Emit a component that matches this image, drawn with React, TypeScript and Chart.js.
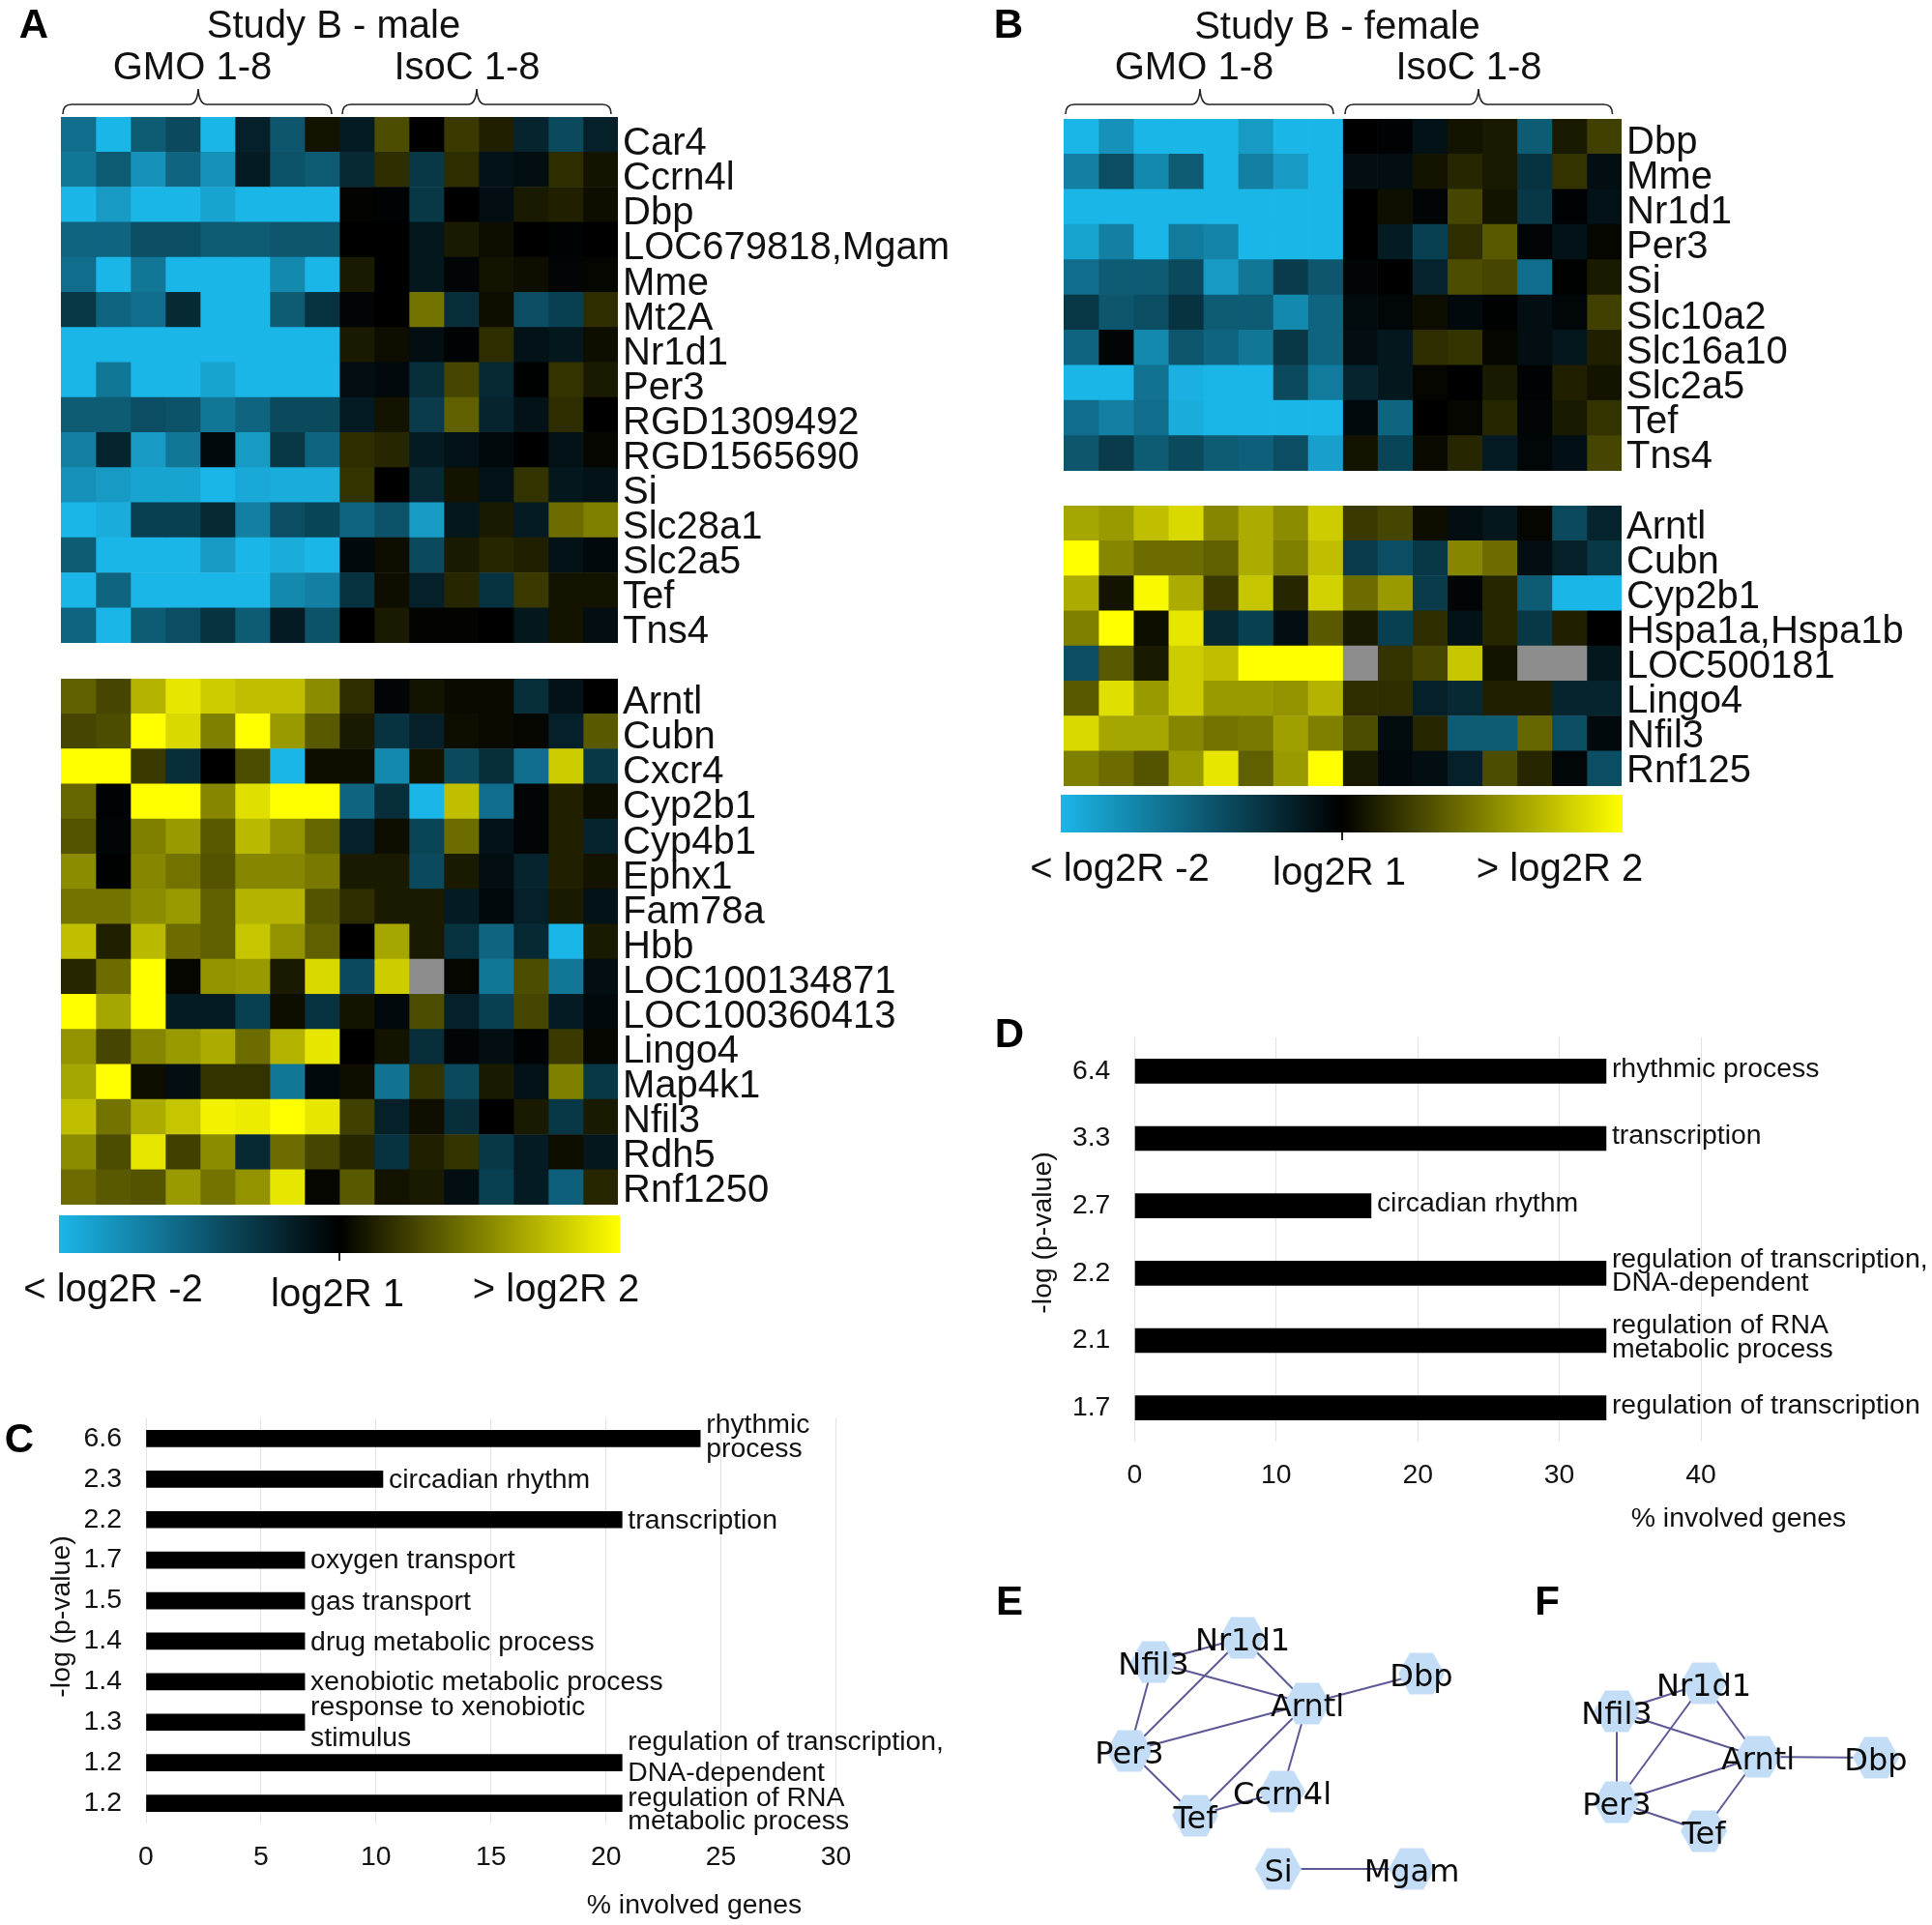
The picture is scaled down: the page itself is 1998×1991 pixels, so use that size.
import React, { useEffect, useRef } from "react";
import { Chart, registerables } from "chart.js";

Chart.register(...registerables);

const SAMPLES = ["GMO 1","GMO 2","GMO 3","GMO 4","GMO 5","GMO 6","GMO 7","GMO 8","IsoC 1","IsoC 2","IsoC 3","IsoC 4","IsoC 5","IsoC 6","IsoC 7","IsoC 8"];

const genesAUp = ["Car4","Ccrn4l","Dbp","LOC679818,Mgam","Mme","Mt2A","Nr1d1","Per3","RGD1309492","RGD1565690","Si","Slc28a1","Slc2a5","Tef","Tns4"];
const valuesAUp: (number|null)[][] = [
[-1.2,-2,-1,-.8,-2,-.35,-.95,.15,-.3,.6,0,.45,.25,-.4,-.8,-.35],
[-1.3,-1,-1.6,-1.1,-1.6,-.3,-.9,-1,-.45,.35,-.6,.35,-.2,-.15,.35,.15],
[-2,-1.7,-2,-2,-1.8,-2,-2,-2,.02,-.03,-.6,0,-.15,.2,.25,.1],
[-1.1,-1.1,-.85,-.85,-1,-1,-.95,-.95,0,0,-.25,.2,.1,0,-.03,0],
[-1.2,-2,-1.3,-2,-2,-2,-1.5,-2,.2,0,-.25,-.05,.15,.1,-.05,.05],
[-.6,-1.1,-1.2,-.45,-2,-2,-1,-.55,-.05,0,.9,-.5,.1,-.85,-.7,.35],
[-2,-2,-2,-2,-2,-2,-2,-2,.2,.1,-.15,-.03,.35,-.2,-.25,.1],
[-2,-1.3,-2,-2,-1.8,-2,-2,-2,-.15,-.1,-.5,.55,-.45,-.02,.4,.2],
[-1,-1,-.85,-.9,-1.3,-1.1,-.8,-.8,-.3,.15,-.65,.75,-.4,-.2,.35,0],
[-1.4,-.4,-1.7,-1.3,-.1,-1.7,-.6,-1.1,.35,.3,-.3,-.2,-.1,0,-.2,.05],
[-1.6,-1.7,-1.8,-1.8,-2,-1.85,-1.9,-1.9,.4,0,-.45,.15,-.2,.4,-.25,-.2],
[-2,-1.9,-.7,-.7,-.45,-1.4,-.85,-.75,-1.1,-.9,-1.7,-.25,.2,-.3,.85,1],
[-1,-2,-2,-2,-1.7,-2,-1.9,-2,-.1,.1,-.8,.2,.3,.25,-.2,-.1],
[-2,-1.1,-2,-2,-2,-2,-1.5,-1.4,-.55,.1,-.35,.3,-.55,.45,.15,.15],
[-1.1,-2,-1,-.85,-.55,-1,-.3,-.9,0,.2,.02,.02,0,-.25,.15,-.15],
];

const genesALow = ["Arntl","Cubn","Cxcr4","Cyp2b1","Cyp4b1","Ephx1","Fam78a","Hbb","LOC100134871","LOC100360413","Lingo4","Map4k1","Nfil3","Rdh5","Rnf1250"];
const valuesALow: (number|null)[][] = [
[.75,.55,1.4,1.8,1.6,1.5,1.5,1.1,.35,-.05,.15,.08,.08,-.5,-.2,0],
[.55,.6,2,1.7,1,2,1.2,.7,.2,-.55,-.35,.1,.08,.05,-.35,.7],
[2,2,.45,-.5,0,.6,-2,.1,.1,-1.5,.15,-.8,-.5,-1.2,1.6,-.6],
[.8,-.03,2,2,1.05,1.75,2,2,-1.1,-.5,-2,1.5,-1.2,-.05,.25,.1],
[.65,-.05,1,1.2,.7,1.45,1.15,.8,-.35,.1,-.75,.85,-.2,-.05,.25,-.4],
[1.1,-.02,1.05,.9,.65,1.05,1.05,.95,.2,.2,-.8,.2,-.15,-.4,.25,.15],
[.9,.9,1.1,1.2,.75,1.4,1.4,.65,.35,.2,.2,-.3,-.1,-.35,.2,-.2],
[1.5,.25,1.45,.85,.75,1.55,1.15,.75,0,1.3,.2,-.55,-1.1,-.45,-2,.2],
[.3,.85,2,.05,1.15,1.2,.2,1.7,-.8,1.6,null,.05,-1.3,.6,-1.3,-.15],
[2,1.3,2,-.3,-.3,-.7,.1,-.55,.15,-.1,.6,-.35,-.7,.55,-.3,-.1],
[1.15,.55,1.05,1.2,1.35,.85,1.4,1.8,0,.15,-.5,-.05,-.15,-.03,.45,.05],
[1.3,2,.1,-.15,.4,.4,-1.3,-.1,.1,-1.25,.4,-.8,.2,-.2,1,-.6],
[1.5,.9,1.35,1.55,1.9,1.85,2,1.8,.5,-.35,.12,-.5,0,.2,-.6,.2],
[1.1,.6,1.8,.5,1.1,-.45,.85,.55,.3,-.55,.25,.4,-.6,-.3,.1,-.25],
[.85,.7,.65,1.2,.9,1.15,1.8,.05,.7,.15,.2,-.15,-.7,-.3,-1.05,.3],
];

const genesBUp = ["Dbp","Mme","Nr1d1","Per3","Si","Slc10a2","Slc16a10","Slc2a5","Tef","Tns4"];
const valuesBUp: (number|null)[][] = [
[-2,-1.6,-2,-2,-2,-1.7,-2,-2,0,-.03,-.2,.15,.2,-1,.2,.5],
[-1.4,-.85,-1.5,-1,-2,-1.4,-1.7,-2,-.15,-.15,.15,.3,.2,-.55,.4,-.15],
[-2,-2,-2,-2,-2,-2,-2,-2,0,.12,-.05,.55,.15,-.6,-.03,-.2],
[-1.8,-1.4,-2,-1.35,-1.45,-2,-2,-2,0,-.3,-.7,.35,.7,-.05,-.2,.05],
[-1.2,-1,-1,-.8,-1.7,-1.3,-.65,-.95,-.05,0,-.4,.6,.55,-1.2,-.02,.2],
[-.6,-.95,-.85,-.55,-1,-1,-1.5,-1.1,-.12,-.08,.1,-.1,-.02,-.15,-.08,.5],
[-1.1,-.05,-1.5,-.95,-1.1,-1.3,-.6,-1.1,-.15,-.25,.35,.4,.05,-.15,-.25,.25],
[-2,-2,-1.25,-1.95,-2,-2,-.8,-1.35,-.4,-.25,.05,0,.2,-.03,.25,.15],
[-1.2,-1.4,-1.2,-1.9,-2,-2,-2,-2,-.1,-1.1,0,.05,.3,-.05,.2,.4],
[-.95,-.65,-1,-.8,-1,-1.05,-.85,-1.75,.15,-.75,.08,.3,-.3,-.08,-.18,.55],
];

const genesBLow = ["Arntl","Cubn","Cyp2b1","Hspa1a,Hspa1b","LOC500181","Lingo4","Nfil3","Rnf125"];
const valuesBLow: (number|null)[][] = [
[1.3,1.2,1.5,1.7,1.05,1.35,1.1,1.6,.45,.55,.1,-.15,-.25,.05,-.8,-.4],
[2,1.05,.85,.85,.75,1.35,1,1.5,-.65,-.85,-.6,1.05,.85,-.15,-.35,-.6],
[1.35,.15,1.95,1.35,.45,1.55,.3,1.65,.85,1.2,-.65,-.05,.3,-1,-2,-2],
[1,2,.1,1.8,-.45,-.7,-.15,.7,.2,-.7,.35,-.2,.3,-.6,.25,0],
[-.85,.7,.2,1.6,1.5,2,2,2,null,.4,.55,1.55,.15,null,null,-.25],
[.7,1.75,1.2,1.6,1.2,1.2,1.15,1.4,.35,.35,-.35,-.45,.25,.25,-.4,-.4],
[1.7,1.3,1.3,1.05,.9,.95,1.25,1,.6,-.12,.3,-1,-1,.8,-.85,-.1],
[1,.85,.65,1.2,1.8,.75,1.2,2,.2,-.1,-.15,-.35,.6,.3,-.08,-.85],
];

const colorbarLabels = ["< log2R -2", "log2R 1", "> log2R 2"];

const pValuesC = ["6.6","2.3","2.2","1.7","1.5","1.4","1.4","1.3","1.2","1.2"];
const percentC = [24.1,10.3,20.7,6.9,6.9,6.9,6.9,6.9,20.7,20.7];
const termsC = [["rhythmic","process"],["circadian rhythm"],["transcription"],["oxygen transport"],["gas transport"],["drug metabolic process"],["xenobiotic metabolic process"],["response to xenobiotic","stimulus"],["regulation of transcription,","DNA-dependent"],["regulation of RNA","metabolic process"]];

const pValuesD = ["6.4","3.3","2.7","2.2","2.1","1.7"];
const percentD = [33.3,33.3,16.7,33.3,33.3,33.3];
const termsD = [["rhythmic process"],["transcription"],["circadian rhythm"],["regulation of transcription,","DNA-dependent"],["regulation of RNA","metabolic process"],["regulation of transcription"]];

const nodesE: [string, number, number][] = [["Nr1d1",1285,1694],["Nfil3",1193,1719],["Arntl",1352,1762],["Dbp",1470,1731],["Per3",1168,1811],["Tef",1236,1878],["Ccrn4l",1326,1853],["Si",1322,1933],["Mgam",1460,1933]];
const edgesE = [["Nfil3","Nr1d1"],["Nfil3","Arntl"],["Nfil3","Per3"],["Nr1d1","Arntl"],["Nr1d1","Per3"],["Per3","Arntl"],["Per3","Tef"],["Tef","Arntl"],["Tef","Ccrn4l"],["Ccrn4l","Arntl"],["Arntl","Dbp"],["Si","Mgam"]];
const nodesF: [string, number, number][] = [["Nr1d1",1762,1741],["Nfil3",1672,1770],["Arntl",1818,1817],["Dbp",1940,1818],["Per3",1672,1864],["Tef",1762,1894]];
const edgesF = [["Nfil3","Nr1d1"],["Nfil3","Arntl"],["Nfil3","Per3"],["Nr1d1","Arntl"],["Nr1d1","Per3"],["Per3","Arntl"],["Per3","Tef"],["Tef","Arntl"],["Arntl","Dbp"]];

const SANS = '"Liberation Sans", Arial, sans-serif';
const BLUE = [27, 182, 232];
const YELLOW = [255, 255, 0];
const GRAY = "#8d8d8d";
const TEXT = "#111";

function cellColor(v: number | null) {
  if (v === null) return GRAY;
  const t = Math.min(1, Math.abs(v) / 2);
  const c = v < 0 ? BLUE : YELLOW;
  return `rgb(${Math.round(c[0] * t)},${Math.round(c[1] * t)},${Math.round(c[2] * t)})`;
}

function heatmapConfig(genes: string[], values: (number|null)[][], rightPad: number, dyFirst: number, dyLast: number) {
  const rowLabels = {
    id: "rowLabels",
    afterDraw(chart: any) {
      const { ctx, chartArea, scales } = chart;
      ctx.save();
      ctx.font = `40px ${SANS}`;
      ctx.fillStyle = TEXT;
      ctx.textAlign = "left";
      ctx.textBaseline = "middle";
      genes.forEach((g, i) => {
        const dy = dyFirst + ((dyLast - dyFirst) * i) / (genes.length - 1);
        ctx.fillText(g, chartArea.right + 5, scales.y.getPixelForValue(i) + dy);
      });
      ctx.restore();
    },
  };
  return {
    type: "bar",
    data: {
      labels: genes,
      datasets: SAMPLES.map((s, c) => ({
        label: s,
        data: genes.map(() => 1),
        backgroundColor: values.map((row) => cellColor(row[c])),
        borderWidth: 0,
        categoryPercentage: 1,
        barPercentage: 1,
      })),
    },
    options: {
      indexAxis: "y",
      animation: false,
      responsive: false,
      layout: { padding: { left: 0, top: 0, bottom: 0, right: rightPad } },
      plugins: { legend: { display: false }, tooltip: { enabled: false } },
      scales: {
        x: { display: false, stacked: true, min: 0, max: SAMPLES.length },
        y: { display: false, stacked: true },
      },
    },
    plugins: [rowLabels],
  };
}

function colorbarConfig(pad: any, labelItems: [number, number][]) {
  const text = {
    id: "cbText",
    afterDraw(chart: any) {
      const { ctx } = chart;
      ctx.save();
      ctx.font = `40px ${SANS}`;
      ctx.fillStyle = TEXT;
      ctx.textAlign = "center";
      ctx.textBaseline = "middle";
      colorbarLabels.forEach((l, i) => ctx.fillText(l, labelItems[i][0], labelItems[i][1]));
      ctx.restore();
    },
  };
  return {
    type: "bar",
    data: {
      labels: ["log2R"],
      datasets: [{
        data: [[-2, 2]],
        borderWidth: 0,
        categoryPercentage: 1,
        barPercentage: 1,
        backgroundColor: (c: any) => {
          const a = c.chart.chartArea;
          if (!a) return "#000";
          const g = c.chart.ctx.createLinearGradient(a.left, 0, a.right, 0);
          g.addColorStop(0, `rgb(${BLUE})`);
          g.addColorStop(0.5, "#000");
          g.addColorStop(1, `rgb(${YELLOW})`);
          return g;
        },
      }],
    },
    options: {
      indexAxis: "y",
      animation: false,
      responsive: false,
      layout: { padding: pad },
      plugins: { legend: { display: false }, tooltip: { enabled: false } },
      scales: {
        y: { display: false },
        x: {
          min: -2, max: 2,
          afterBuildTicks: (s: any) => { s.ticks = [{ value: 0 }]; },
          afterFit: (s: any) => { s.height = 8; },
          ticks: { display: false },
          border: { display: false },
          grid: { drawOnChartArea: false, drawTicks: true, tickLength: 8, color: "#222", lineWidth: 2 },
        },
      },
    },
    plugins: [text],
  };
}

function barConfig(o: any) {
  const FS = 28.4;
  const labels = {
    id: "termLabels",
    afterDraw(chart: any) {
      const { ctx } = chart;
      const bars = chart.getDatasetMeta(0).data;
      ctx.save();
      ctx.font = `${FS}px ${SANS}`;
      ctx.fillStyle = TEXT;
      ctx.textBaseline = "middle";
      ctx.textAlign = "left";
      o.terms.forEach((lines: string[], i: number) => {
        lines.forEach((t, k) => ctx.fillText(t, bars[i].x + 6, bars[i].y + o.lineOffsets[i][k]));
      });
      ctx.textAlign = "center";
      ctx.fillText("% involved genes", o.xTitle[0], o.xTitle[1]);
      ctx.translate(o.yTitle[0], o.yTitle[1]);
      ctx.rotate(-Math.PI / 2);
      ctx.fillText("-log (p-value)", 0, 0);
      ctx.restore();
    },
  };
  return {
    type: "bar",
    data: {
      labels: o.p,
      datasets: [{ data: o.values, backgroundColor: "#000", barThickness: o.thick, borderWidth: 0 }],
    },
    options: {
      indexAxis: "y",
      animation: false,
      responsive: false,
      layout: { padding: { left: 0, top: o.top, right: o.right, bottom: 0 } },
      plugins: { legend: { display: false }, tooltip: { enabled: false } },
      scales: {
        x: {
          min: 0, max: o.max,
          afterFit: (s: any) => { s.height = o.bottom; },
          ticks: { stepSize: o.step, padding: o.tickPad, color: TEXT, font: { family: SANS, size: FS }, maxRotation: 0 },
          border: { display: false },
          grid: { color: "#e2e2e2", lineWidth: 1, drawTicks: false },
        },
        y: {
          afterFit: (s: any) => { s.width = o.left; s.paddingTop = 0; s.paddingBottom = 0; },
          ticks: { padding: 25, color: TEXT, font: { family: SANS, size: FS }, autoSkip: false },
          border: { display: false },
          grid: { display: false, drawTicks: false },
        },
      },
    },
    plugins: [labels],
  };
}

function hexSprite() {
  const w = 48, h = 43;
  const c = document.createElement("canvas");
  c.width = w + 2; c.height = h + 2;
  const g = c.getContext("2d")!;
  g.beginPath();
  g.moveTo(1, 1 + h / 2);
  g.lineTo(1 + w * 0.25, 1);
  g.lineTo(1 + w * 0.75, 1);
  g.lineTo(1 + w, 1 + h / 2);
  g.lineTo(1 + w * 0.75, 1 + h);
  g.lineTo(1 + w * 0.25, 1 + h);
  g.closePath();
  g.fillStyle = "#c4ddf6";
  g.fill();
  return c;
}

function networkConfig(nodes: [string, number, number][], edges: string[][], xr: number[], yr: number[]) {
  const pos = new Map(nodes.map((n) => [n[0], { x: n[1], y: n[2] }]));
  const names = {
    id: "nodeNames",
    afterDraw(chart: any) {
      const { ctx, scales } = chart;
      ctx.save();
      ctx.font = '32px "DejaVu Sans", sans-serif';
      ctx.fillStyle = "#0a0a0a";
      ctx.textAlign = "center";
      ctx.textBaseline = "middle";
      nodes.forEach((n) => ctx.fillText(n[0], scales.x.getPixelForValue(n[1]), scales.y.getPixelForValue(n[2]) + 5));
      ctx.restore();
    },
  };
  const sprite = hexSprite();
  return {
    type: "scatter",
    data: {
      datasets: [
        {
          label: "genes",
          data: nodes.map((n) => ({ x: n[1], y: n[2] })),
          pointStyle: sprite,
          pointRadius: 22,
          showLine: false,
        },
        ...edges.map((e) => ({
          label: e.join("-"),
          data: [pos.get(e[0]), pos.get(e[1])],
          showLine: true,
          pointRadius: 0,
          borderColor: "#5c5a96",
          borderWidth: 2,
        })),
      ],
    },
    options: {
      animation: false,
      responsive: false,
      layout: { padding: 0, autoPadding: false },
      plugins: { legend: { display: false }, tooltip: { enabled: false } },
      scales: {
        x: { display: false, min: xr[0], max: xr[1] },
        y: { display: false, reverse: true, min: yr[0], max: yr[1] },
      },
    },
    plugins: [names],
  };
}

type Spec = { left: number; top: number; width: number; height: number; config: () => any };

const specs: Spec[] = [
  { left: 63, top: 121, width: 400 + 576, height: 544, config: () => heatmapConfig(genesAUp, valuesAUp, 400, 10, 7.5) },
  { left: 63, top: 702, width: 400 + 576, height: 544, config: () => heatmapConfig(genesALow, valuesALow, 400, 7, 4.5) },
  { left: 1100, top: 123, width: 400 + 577, height: 364, config: () => heatmapConfig(genesBUp, valuesBUp, 400, 7, 4) },
  { left: 1100, top: 523, width: 400 + 577, height: 290, config: () => heatmapConfig(genesBLow, valuesBLow, 400, 4.5, 3) },
  { left: 0, top: 1257, width: 700, height: 110, config: () => colorbarConfig({ left: 61, right: 59, top: 0, bottom: 63 }, [[117, 78], [349, 83], [575, 78]]) },
  { left: 1040, top: 822, width: 700, height: 110, config: () => colorbarConfig({ left: 57, right: 62, top: 0, bottom: 63 }, [[118, 78], [345, 82], [573, 78]]) },
  { left: 0, top: 1440, width: 1000, height: 551, config: () => barConfig({
      p: pValuesC, values: percentC, terms: termsC, max: 30, step: 5, thick: 17, top: 27, right: 135.5, left: 151, bottom: 105, tickPad: 18,
      lineOffsets: [[-14,11],[1],[1],[1],[2],[2],[1],[-15,17],[-21,11],[-5,19]],
      xTitle: [718, 531], yTitle: [64, 232],
    }) },
  { left: 1020, top: 1040, width: 978, height: 560, config: () => barConfig({
      p: pValuesD, values: percentD, terms: termsD, max: 40, step: 10, thick: 25, top: 33, right: 239, left: 153.4, bottom: 109, tickPad: 18,
      lineOffsets: [[-2],[-2],[-2],[-14,10],[-15,10],[-2]],
      xTitle: [778, 531], yTitle: [59, 235],
    }) },
  { left: 1120, top: 1660, width: 420, height: 320, config: () => networkConfig(nodesE, edgesE, [1120, 1540], [1660, 1980]) },
  { left: 1620, top: 1700, width: 378, height: 230, config: () => networkConfig(nodesF, edgesF, [1620, 1998], [1700, 1930]) },
];

const letters: [string, number, number][] = [["A",35,24],["B",1043,24],["C",20,1487],["D",1044,1068],["E",1044,1655],["F",1600,1655]];
const headings: [string, number, number][] = [["Study B - male",345,25],["GMO 1-8",199,68],["IsoC 1-8",483,68],["Study B - female",1383,26],["GMO 1-8",1235,68],["IsoC 1-8",1519,68]];
const braces: [number, number, number][] = [[65,205,343],[354,493,632],[1102,1241,1379],[1391,1529,1667.5]];

function bracePath(x0: number, tip: number, x1: number) {
  const yb = 118, y = 108, yt = 92;
  return `M${x0} ${yb} Q${x0} ${y} ${x0 + 9} ${y} L${tip - 9} ${y} Q${tip - 1} ${y} ${tip} ${yt} Q${tip + 1} ${y} ${tip + 9} ${y} L${x1 - 9} ${y} Q${x1} ${y} ${x1} ${yb}`;
}

function Panel({ spec }: { spec: Spec }) {
  const ref = useRef<HTMLCanvasElement>(null);
  useEffect(() => {
    const chart = new Chart(ref.current!, spec.config());
    return () => chart.destroy();
  }, [spec]);
  return (
    <canvas
      ref={ref}
      width={spec.width}
      height={spec.height}
      style={{ position: "absolute", left: spec.left, top: spec.top, width: spec.width, height: spec.height }}
    />
  );
}

export default function App() {
  return (
    <div style={{ position: "absolute", left: 0, top: 0, width: 1998, height: 1991, background: "#fff", overflow: "hidden" }}>
      {specs.map((s, i) => <Panel key={i} spec={s} />)}
      <svg width={1998} height={1991} style={{ position: "absolute", left: 0, top: 0, pointerEvents: "none" }}>
        {braces.map((b, i) => (
          <path key={i} d={bracePath(b[0], b[1], b[2])} fill="none" stroke="#222" strokeWidth={1.6} />
        ))}
        {headings.map((h, i) => (
          <text key={i} x={h[1]} y={h[2]} textAnchor="middle" dominantBaseline="central" fontFamily={SANS} fontSize={40} fill={TEXT}>{h[0]}</text>
        ))}
        {letters.map((l, i) => (
          <text key={i} x={l[1]} y={l[2]} textAnchor="middle" dominantBaseline="central" fontFamily={SANS} fontWeight="bold" fontSize={42} fill="#000">{l[0]}</text>
        ))}
      </svg>
    </div>
  );
}
